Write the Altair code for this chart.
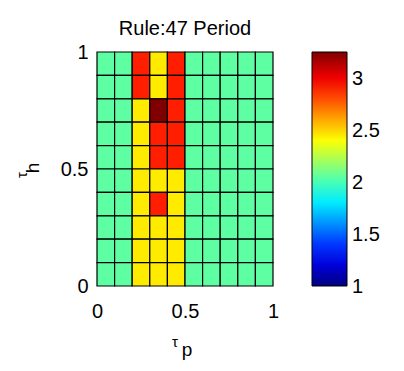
import altair as alt
import pandas as pd

# tau_p bin edges (columns) and tau_h bin edges (rows)
tau_p_edges = [0.0, 0.1, 0.2, 0.3, 0.4, 0.5, 0.6, 0.7, 0.8, 0.9, 1.0]
tau_h_edges = [0.0, 0.1, 0.2, 0.3, 0.4, 0.5, 0.6, 0.7, 0.8, 0.9, 1.0]

# period values, one list per tau_h row, listed from top row (0.9-1.0) down
row_10 = [2.05, 2.05, 2.9, 2.45, 2.9, 2.05, 2.05, 2.05, 2.05, 2.05]
row_09 = [2.05, 2.05, 2.9, 2.45, 2.9, 2.05, 2.05, 2.05, 2.05, 2.05]
row_08 = [2.05, 2.05, 2.45, 3.25, 2.9, 2.05, 2.05, 2.05, 2.05, 2.05]
row_07 = [2.05, 2.05, 2.45, 2.9, 2.9, 2.05, 2.05, 2.05, 2.05, 2.05]
row_06 = [2.05, 2.05, 2.45, 2.9, 2.9, 2.05, 2.05, 2.05, 2.05, 2.05]
row_05 = [2.05, 2.05, 2.45, 2.45, 2.45, 2.05, 2.05, 2.05, 2.05, 2.05]
row_04 = [2.05, 2.05, 2.45, 2.9, 2.45, 2.05, 2.05, 2.05, 2.05, 2.05]
row_03 = [2.05, 2.05, 2.45, 2.45, 2.45, 2.05, 2.05, 2.05, 2.05, 2.05]
row_02 = [2.05, 2.05, 2.45, 2.45, 2.45, 2.05, 2.05, 2.05, 2.05, 2.05]
row_01 = [2.05, 2.05, 2.45, 2.45, 2.45, 2.05, 2.05, 2.05, 2.05, 2.05]
rows_top_down = [row_10, row_09, row_08, row_07, row_06,
                 row_05, row_04, row_03, row_02, row_01]

colorbar_ticks = [1, 1.5, 2, 2.5, 3]
colorbar_labels = ["1", "1.5", "2", "2.5", "3"]
color_min, color_max = 1.0, 3.25

# jet colormap stops
jet_fracs = [0.0, 0.125, 0.375, 0.625, 0.875, 1.0]
jet_colors = ["#000080", "#0000ff", "#00ffff", "#ffff00", "#ff0000", "#800000"]
jet_domain = [color_min + f * (color_max - color_min) for f in jet_fracs]

records = []
n = len(rows_top_down)
for i, row in enumerate(rows_top_down):
    r = n - 1 - i
    for c, v in enumerate(row):
        records.append({
            "p0": tau_p_edges[c], "p1": tau_p_edges[c + 1],
            "h0": tau_h_edges[r], "h1": tau_h_edges[r + 1],
            "period": v,
        })
df = pd.DataFrame(records)
cb_df = pd.DataFrame({"v": colorbar_ticks, "lab": colorbar_labels})

W, H = 176, 234
FONT = "Liberation Sans"
CB_X, CB_W = 215, 35

heat = alt.Chart(df).mark_rect(stroke="black", strokeWidth=1.2).encode(
    x=alt.X("p0:Q", scale=alt.Scale(domain=[0, 1], nice=False),
            axis=alt.Axis(values=[0, 0.5, 1], title=None, grid=False, ticks=False,
                          domain=False, labelFlush=False, labelPadding=15,
                          labelFontSize=20, labelFont=FONT, labelColor="black",
                          format="~g")),
    x2="p1:Q",
    y=alt.Y("h0:Q", scale=alt.Scale(domain=[0, 1], nice=False),
            axis=alt.Axis(values=[0, 0.5, 1], title=None, grid=False, ticks=False,
                          domain=False, labelFlush=False, labelPadding=9,
                          labelFontSize=20, labelFont=FONT, labelColor="black",
                          format="~g")),
    y2="h1:Q",
    color=alt.Color("period:Q",
                    scale=alt.Scale(domain=jet_domain, range=jet_colors,
                                    interpolate="rgb", nice=False, zero=False),
                    legend=alt.Legend(orient="none", legendX=CB_X, legendY=0,
                                      direction="vertical", title=None,
                                      gradientLength=H, gradientThickness=CB_W,
                                      gradientStrokeColor="black",
                                      gradientStrokeWidth=1,
                                      values=colorbar_ticks, labelExpr="''",
                                      labelFontSize=1, padding=0)),
)

# colorbar tick labels, positioned through a scale spanning the colour domain
cb_labels = alt.Chart(cb_df).mark_text(
    font=FONT, fontSize=20, color="black", align="left", baseline="middle", dy=1,
).encode(
    y=alt.Y("v:Q", scale=alt.Scale(domain=[color_min, color_max], nice=False, zero=False),
            axis=None),
    x=alt.value(CB_X + CB_W + 5),
    text="lab:N",
)

one = alt.Data(values=[{"k": 0}])

def label(txt, x, y, size, angle=0):
    return alt.Chart(one).mark_text(
        font=FONT, fontSize=size, color="black", baseline="alphabetic",
        align="center", angle=angle,
    ).encode(x=alt.value(x), y=alt.value(y), text=alt.value(txt))

xl_tau = label("τ", 78, 295, 15)
xl_p = label("p", 90, 304, 19)
yl_tau = label("τ", -70, 123, 15, angle=270)
yl_h = label("h", -58, 116, 19, angle=270)
title_txt = label("Rule:47 Period", W / 2, -17, 20)

chart = alt.layer(heat, cb_labels, xl_tau, xl_p, yl_tau, yl_h, title_txt).resolve_scale(
    y="independent"
).properties(
    width=W, height=H,
    autosize=alt.AutoSizeParams(type="none"),
    padding={"left": 89, "top": 44, "right": 123, "bottom": 77},
    background="white",
).configure_view(stroke=None)

chart.save("out.html", embed_options={"renderer": "svg", "actions": False})
